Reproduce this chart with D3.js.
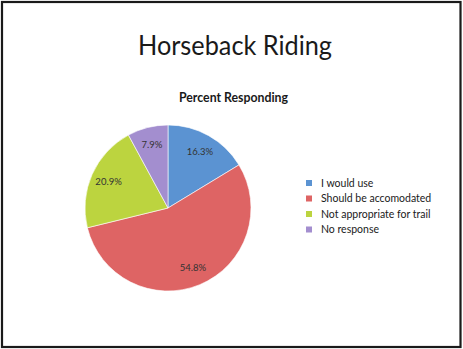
<!DOCTYPE html>
<html>
<head>
<meta charset="utf-8">
<script src="https://cdn.jsdelivr.net/npm/d3@7"></script>
<style>
  html, body { margin: 0; padding: 0; background: #fff; }
  svg { display: block; }
  text { font-family: Lato, "Open Sans", "DejaVu Sans", sans-serif; }
</style>
</head>
<body>
<svg id="chart" width="463" height="349"></svg>
<script>
// Survey responses for horseback riding on the trail
const categories = ["I would use", "Should be accomodated", "Not appropriate for trail", "No response"];
const percents = [16.3, 54.8, 20.9, 7.9];
const colors = ["#5b93d2", "#de6464", "#bcd43f", "#a38ecf"];
const chartTitle = "Horseback Riding";
const chartSubtitle = "Percent Responding";

const W = 463, H = 349;
const svg = d3.select("#chart");

// slide frame
svg.append("rect")
  .attr("x", 2).attr("y", 2).attr("width", W - 4.5).attr("height", H - 4)
  .attr("fill", "#fff").attr("stroke", "#1a1a1a").attr("stroke-width", 2.2);

// titles
svg.append("text")
  .attr("x", 235).attr("y", 55)
  .attr("text-anchor", "middle")
  .attr("font-size", 27).attr("fill", "#1a1a1a")
  .attr("textLength", 194).attr("lengthAdjust", "spacingAndGlyphs")
  .text(chartTitle);

svg.append("text")
  .attr("x", 233.5).attr("y", 102)
  .attr("text-anchor", "middle")
  .attr("font-size", 12.3).attr("font-weight", "bold").attr("fill", "#1a1a1a")
  .text(chartSubtitle);

// pie
const cx = 168, cy = 208, r = 83;
const pie = d3.pie().sort(null).value(d => d)(percents);
const arc = d3.arc().innerRadius(0).outerRadius(r);
const labelArc = d3.arc().innerRadius(65).outerRadius(65);
const color = d3.scaleOrdinal().domain(categories).range(colors);

const g = svg.append("g").attr("transform", `translate(${cx},${cy})`);
g.selectAll("path.slice")
  .data(pie)
  .join("path")
  .attr("class", "slice")
  .attr("d", arc)
  .attr("fill", (d, i) => color(categories[i]))
  .attr("stroke", "#fff").attr("stroke-width", 0.6);

g.selectAll("text.val")
  .data(pie)
  .join("text")
  .attr("class", "val")
  .attr("transform", d => `translate(${labelArc.centroid(d)})`)
  .attr("text-anchor", "middle")
  .attr("dy", "0.35em")
  .attr("font-size", 9.5).attr("fill", "#333")
  .text(d => d.data.toFixed(1) + "%");

// legend
const legend = svg.append("g").attr("transform", "translate(306,183)");
const item = legend.selectAll("g.item")
  .data(categories)
  .join("g")
  .attr("class", "item")
  .attr("transform", (d, i) => `translate(0,${i * 15.5})`);
item.append("rect")
  .attr("x", 0).attr("y", -3).attr("width", 6).attr("height", 6)
  .attr("fill", d => color(d));
item.append("text")
  .attr("x", 15).attr("y", 0).attr("dy", "0.35em")
  .attr("font-size", 10.5).attr("fill", "#1a1a1a")
  .text(d => d);
</script>
</body>
</html>
